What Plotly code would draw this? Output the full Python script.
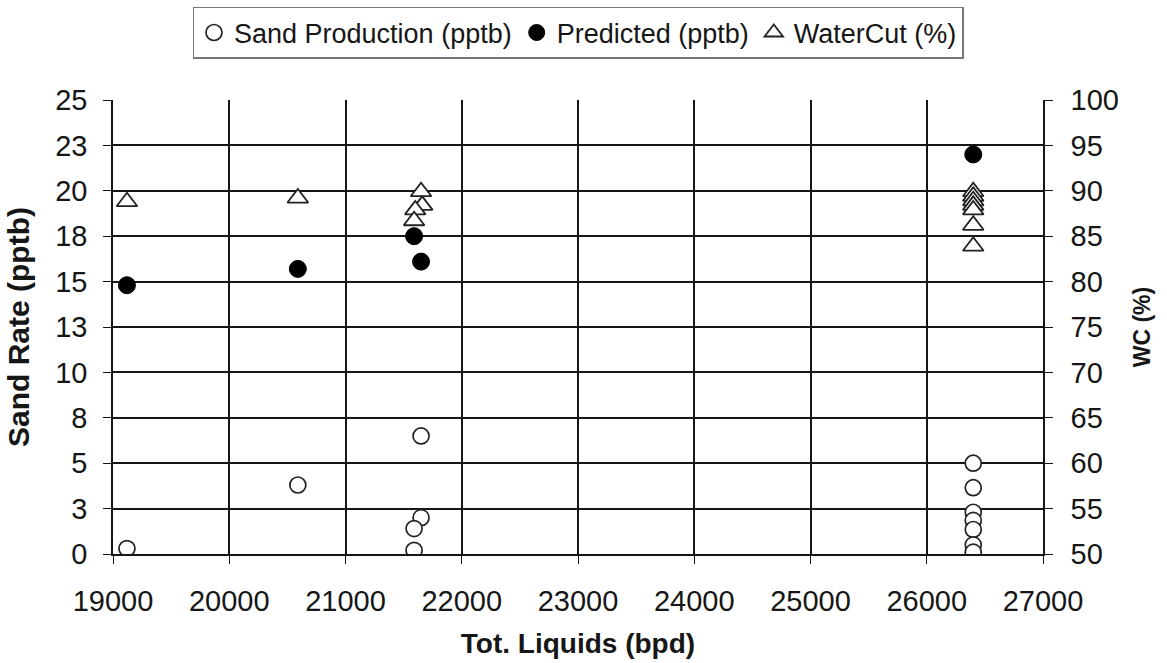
import plotly.graph_objects as go

# ---- data ----
sand_x = [19120, 20590, 21650, 21650, 21590, 21590, 26400, 26400, 26400, 26400, 26400, 26400, 26400]
sand_y = [0.3, 3.8, 6.5, 2.0, 1.4, 0.2, 5.0, 3.65, 2.3, 1.85, 1.35, 0.5, 0.1]

pred_x = [19120, 20590, 21590, 21650, 26400]
pred_y = [14.8, 15.7, 17.5, 16.1, 22.0]

wc_x = [19120, 20590, 21650, 21660, 21600, 21590, 26400, 26400, 26400, 26400, 26400, 26400, 26400]
wc_y = [88.8, 89.2, 89.9, 88.4, 87.9, 86.7, 89.9, 89.4, 88.9, 88.4, 87.9, 86.2, 83.9]

x_ticks = [19000, 20000, 21000, 22000, 23000, 24000, 25000, 26000, 27000]
left_tickvals = [0, 2.5, 5, 7.5, 10, 12.5, 15, 17.5, 20, 22.5, 25]
left_ticktext = ["0", "3", "5", "8", "10", "13", "15", "18", "20", "23", "25"]
right_tickvals = [50, 55, 60, 65, 70, 75, 80, 85, 90, 95, 100]

FONT = "Liberation Sans, Arial, sans-serif"
INK = "#161616"

fig = go.Figure()
fig.add_trace(go.Scatter(
    x=sand_x, y=sand_y, mode="markers", name="Sand Production (pptb)",
    marker=dict(symbol="circle", size=16, color="white", line=dict(color="#222", width=1.7)),
))
fig.add_trace(go.Scatter(
    x=pred_x, y=pred_y, mode="markers", name="Predicted (pptb)",
    marker=dict(symbol="circle", size=17, color="black", line=dict(color="black", width=1)),
))
fig.add_trace(go.Scatter(
    x=wc_x, y=wc_y, mode="markers", name="WaterCut (%)", yaxis="y2",
    marker=dict(symbol="triangle-up", size=18, color="white", line=dict(color="#222", width=1.8)),
))

fig.update_layout(
    width=1167, height=663,
    margin=dict(l=113, r=124, t=100, b=109, autoexpand=False),
    paper_bgcolor="white", plot_bgcolor="white",
    font=dict(family=FONT, size=29, color=INK),
    showlegend=True,
    legend=dict(
        orientation="h", x=0.5, xanchor="center", y=1.205, yanchor="top",
        bordercolor="#777", borderwidth=1.5, bgcolor="white",
        font=dict(size=27, family=FONT, color=INK),
        itemwidth=30, tracegroupgap=0,
    ),
    xaxis=dict(
        range=[19000, 27000], tickvals=x_ticks, tickformat="d",
        showgrid=True, gridcolor=INK, gridwidth=1.5,
        showline=True, linecolor=INK, linewidth=1.6,
        ticks="outside", ticklen=8, tickcolor=INK, tickwidth=1.4,
        ticklabelstandoff=12, zeroline=False,
        title=dict(text="<b>Tot. Liquids (bpd)</b>", font=dict(size=28, family=FONT), standoff=18),
        automargin=False,
    ),
    yaxis=dict(
        range=[0, 25], tickvals=left_tickvals, ticktext=left_ticktext,
        showgrid=True, gridcolor=INK, gridwidth=1.5,
        showline=True, linecolor=INK, linewidth=1.6,
        ticks="outside", ticklen=8, tickcolor=INK, tickwidth=1.4,
        ticklabelstandoff=10, zeroline=False,
        title=dict(text="<b>Sand Rate (pptb)</b>", font=dict(size=30, family=FONT), standoff=17),
        automargin=False,
    ),
    yaxis2=dict(
        range=[50, 100], tickvals=right_tickvals, overlaying="y", side="right",
        showgrid=False, showline=True, linecolor=INK, linewidth=1.6,
        ticks="outside", ticklen=8, tickcolor=INK, tickwidth=1.4,
        ticklabelstandoff=12, zeroline=False,
        title=dict(text="<b>WC (%)</b>", font=dict(size=23, family=FONT), standoff=16),
        automargin=False,
    ),
)

fig.write_html("out.html")
